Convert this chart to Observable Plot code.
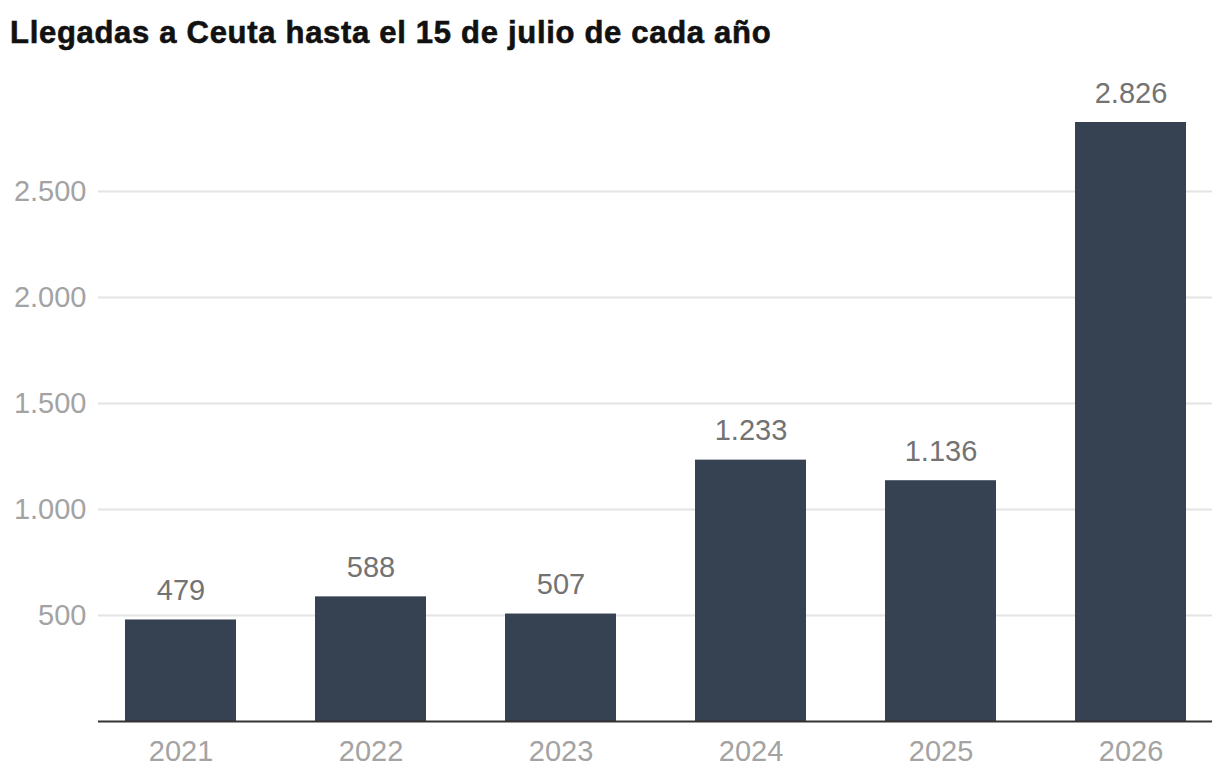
<!DOCTYPE html>
<html>
<head>
<meta charset="utf-8">
<script src="https://cdn.jsdelivr.net/npm/d3@7"></script>
<script src="https://cdn.jsdelivr.net/npm/@observablehq/plot@0.6"></script>
<style>
  body { margin: 0; background: #fff; }
  #title {
    position: relative; height: 70px;
  }
  #title span {
    position: absolute; left: 10px; top: 15px;
    font-family: "Liberation Sans", Arial, sans-serif;
    font-weight: bold; font-size: 31px; color: #111;
    letter-spacing: 0.7px;
    -webkit-text-stroke: 0.6px #111;
    white-space: nowrap;
  }
</style>
</head>
<body>
<div id="title"><span>Llegadas a Ceuta hasta el 15 de julio de cada año</span></div>
<div id="chart"></div>
<script>
// Llegadas acumuladas a Ceuta hasta el 15 de julio, por año
const years = ["2021", "2022", "2023", "2024", "2025", "2026"];
const arrivals = [479, 588, 507, 1233, 1136, 2826];
const yTicks = [500, 1000, 1500, 2000, 2500];

const data = years.map((year, i) => ({year, value: arrivals[i]}));

// Separador de miles con punto
const es = d3.formatLocale({decimal: ",", thousands: ".", grouping: [3], currency: ["", " €"]});
const fmt = es.format(",d");

const chart = Plot.plot({
  width: 1220,
  height: 714,
  marginTop: 52,
  marginBottom: 63,
  marginLeft: 98,
  marginRight: 8,
  style: {fontFamily: "Liberation Sans, Arial, sans-serif", fontSize: "29px", background: "#fff"},
  x: {domain: years, paddingInner: 0.417, paddingOuter: 0.134, label: null},
  y: {domain: [0, 2826], label: null},
  marks: [
    Plot.gridY(yTicks, {stroke: "#e4e4e4", strokeWidth: 2, strokeOpacity: 1}),
    Plot.axisY(yTicks, {tickSize: 0, tickPadding: 12, tickFormat: fmt, fontSize: 29, fill: "#a3a3a3", label: null}),
    Plot.barY(data, {x: "year", y: "value", fill: "#364151"}),
    Plot.ruleY([0], {stroke: "#333", strokeWidth: 2}),
    Plot.text(data, {x: "year", y: "value", text: d => fmt(d.value), dy: -20, lineAnchor: "bottom", fontSize: 29, fill: "#737373"}),
    Plot.axisX({tickSize: 0, tickPadding: 19, fontSize: 29, fill: "#a3a3a3", label: null})
  ]
});

document.getElementById("chart").append(chart);
</script>
</body>
</html>
